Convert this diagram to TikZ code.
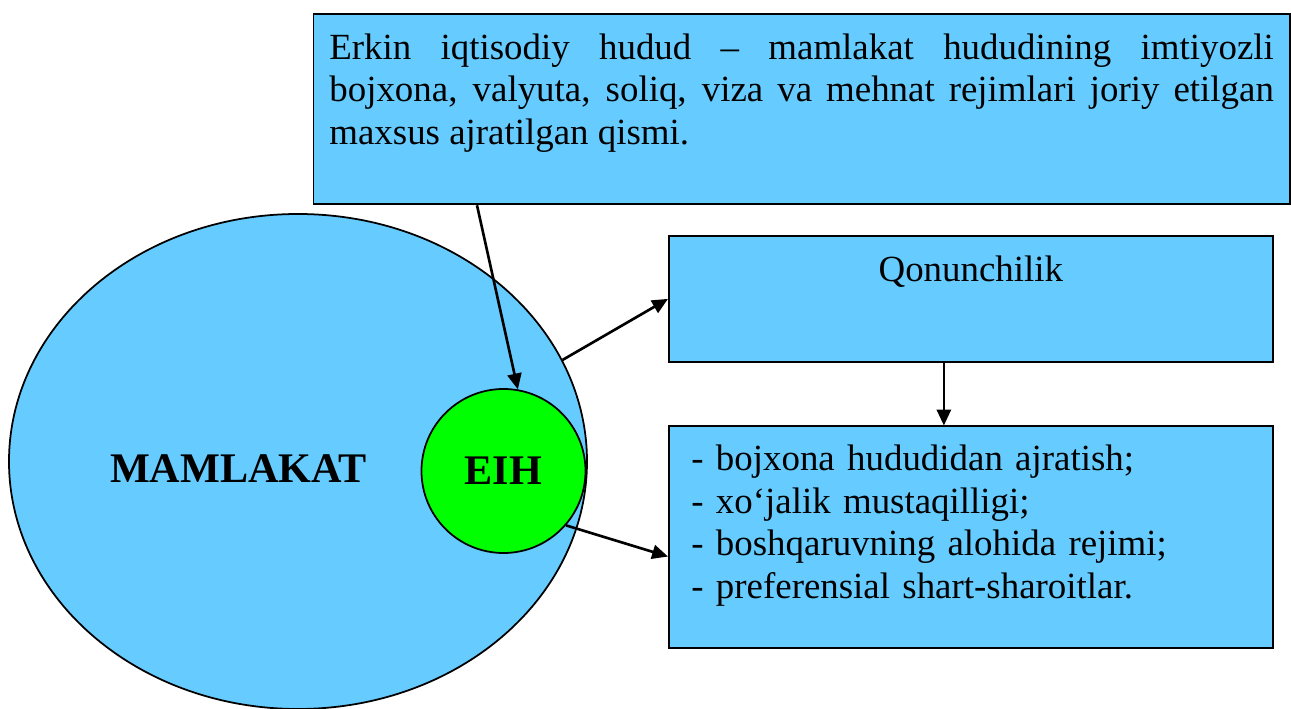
\documentclass[tikz,border=0pt]{standalone}
\usepackage{fontspec}
\setmainfont{Liberation Serif}
\usepackage{tikz}
\usetikzlibrary{arrows.meta}
\usetikzlibrary{shapes.geometric}
\definecolor{osmon}{HTML}{66CCFF}
\definecolor{yashil}{HTML}{00FF00}
\def\matn{\fontsize{21}{24.2}\selectfont}
\def\qalin{\bfseries\fontsize{24}{28}\selectfont}
\tikzset{
	box/.style={draw, line width=1pt, fill=osmon, anchor=north west, inner ysep=0.2cm, font=\matn},
	conn/.style={->, line width=1.5pt},
	>={Triangle[length=9pt, width=8pt]}
}

\begin{document}
\begin{tikzpicture}
		\useasboundingbox (0, 0) rectangle (25.82, -14.18);
		\node (mamlakat) [draw, ellipse, fill=osmon, line width=1pt, inner sep=0pt, minimum width=11.56cm, minimum height=9.9cm] at (5.96, -9.23) {};
		\node (nom)      [font=\qalin] at (4.77, -9.37) {MAMLAKAT};
		\node (eih)      [draw, circle, fill=yashil, line width=1pt, inner sep=0pt, minimum size=3.28cm, font=\qalin] at (10.07, -9.42) {EIH};
		\node (def)      [box, minimum width=19.53cm, text width=18.89cm, inner xsep=0.32cm, inner ysep=0.39cm, align=justify, text height=0.506cm, text depth=2.514cm] at (6.25, -0.27)
			{Erkin iqtisodiy hudud – mamlakat hududining imtiyozli\linebreak bojxona, valyuta, soliq, viza va mehnat rejimlari joriy etilgan\linebreak maxsus ajratilgan qismi.};
		\node (qonun)    [box, minimum width=12.08cm, text height=0.72cm, text depth=1.4cm] at (13.36, -4.7) {Qonunchilik};
		\node (belgi)    [box, minimum width=12.08cm, text width=11.18cm, inner xsep=0.45cm, align=left, text height=0.686cm, text depth=3.34cm] at (13.36, -8.51)
			{- bojxona hududidan ajratish;\\ - xo‘jalik mustaqilligi;\\ - boshqaruvning alohida rejimi;\\ - preferensial shart-sharoitlar.};

		\draw[conn] ([xshift=3.29cm]def.south west) -- (eih.80);
		\draw[conn] (mamlakat.21)                   -- (qonun.west);
		\draw[conn] (eih.-41)                       -- ([yshift=-0.39cm]belgi.west);
		\draw[conn] ([xshift=-0.54cm]qonun.south)   -- ([xshift=-0.54cm]belgi.north);
	\end{tikzpicture}
\end{document}
